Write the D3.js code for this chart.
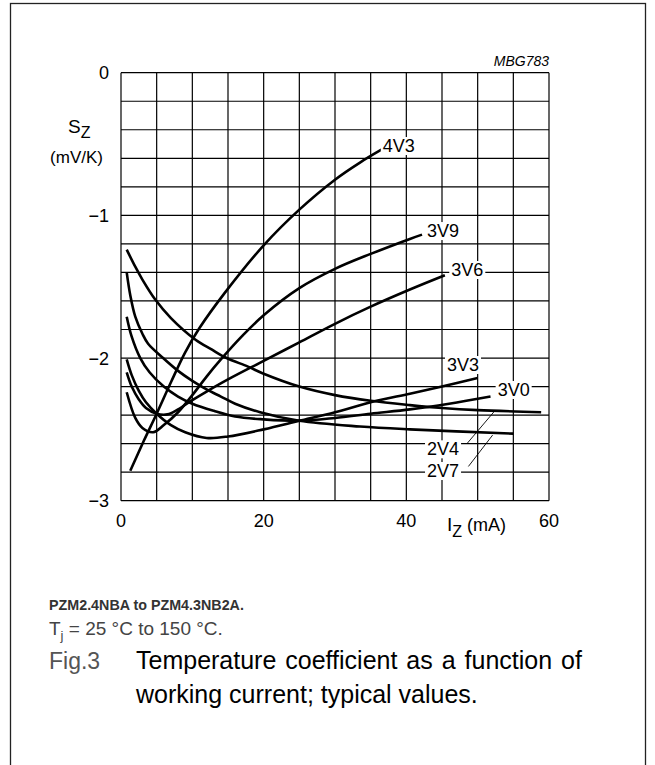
<!DOCTYPE html>
<html>
<head>
<meta charset="utf-8">
<script src="https://cdn.jsdelivr.net/npm/d3@7"></script>
<style>
  html, body { margin: 0; padding: 0; background: #fff; }
  svg { display: block; font-family: "Liberation Sans", Arial, sans-serif; }
</style>
</head>
<body>
<svg width="655" height="765"></svg>
<script>
// I_Z (mA) vs S_Z (mV/K)
var c2V4 = [[0.8,-1.24],[2,-1.36],[3,-1.45],[4.8,-1.59],[7,-1.72],[10.4,-1.87],[12.7,-1.94],[14.8,-2.0],[17.8,-2.06],[20,-2.11],[25,-2.2],[30,-2.26],[35,-2.3],[40.5,-2.33],[45,-2.35],[50,-2.365],[58.9,-2.38]];
var c2V7 = [[0.8,-1.40],[1.3,-1.56],[2,-1.71],[3,-1.83],[3.8,-1.9],[5.9,-2.0],[8,-2.09],[10,-2.16],[12,-2.22],[14,-2.27],[16,-2.32],[19.5,-2.38],[25,-2.44],[33.5,-2.48],[40.5,-2.5],[55,-2.53]];
var c3V0 = [[0.8,-1.71],[1.5,-1.85],[2.7,-2.0],[4,-2.1],[6,-2.2],[8,-2.27],[10,-2.32],[13,-2.37],[16,-2.41],[20,-2.43],[25,-2.44],[30,-2.42],[35,-2.39],[40.5,-2.36],[46,-2.32],[51.8,-2.27]];
var c3V3 = [[0.8,-2.01],[1.5,-2.12],[2.5,-2.23],[3.5,-2.31],[5,-2.39],[7,-2.47],[9,-2.52],[12,-2.56],[15,-2.55],[20,-2.5],[25,-2.44],[30,-2.38],[35,-2.31],[40.5,-2.25],[45,-2.2],[50,-2.14]];
var c3V6 = [[0.8,-2.10],[1.5,-2.2],[2.5,-2.29],[3.5,-2.35],[5,-2.39],[6.5,-2.395],[8,-2.36],[10,-2.295],[12,-2.235],[15,-2.15],[20,-2.02],[25,-1.89],[30,-1.76],[35,-1.64],[40.5,-1.52],[45.4,-1.42]];
var c3V9 = [[0.8,-2.24],[2,-2.42],[3,-2.49],[4.5,-2.52],[6,-2.47],[8,-2.38],[10,-2.26],[12,-2.13],[14,-2.01],[17,-1.845],[20,-1.70],[25,-1.51],[30,-1.375],[35,-1.27],[40.5,-1.165],[42.2,-1.135]];
var c4V3 = [[1.3,-2.79],[3.2,-2.58],[5,-2.39],[7,-2.17],[9,-1.96],[11,-1.79],[14.6,-1.54],[20,-1.21],[25,-0.96],[30,-0.75],[33.5,-0.63],[36.5,-0.54]];

var curves = [c2V4, c2V7, c3V0, c3V3, c3V6, c3V9, c4V3];
var curveNames = ["2V4", "2V7", "3V0", "3V3", "3V6", "3V9", "4V3"];
// label baseline-left positions in data units
var labelPos = [[42.9,-2.682],[42.9,-2.834],[52.8,-2.266],[45.7,-2.091],[46.3,-1.425],[42.9,-1.152],[36.7,-0.556]];
// leader lines for the two lower labels: [from label, to curve]
var leaders = [[[48.5,-2.60],[52.4,-2.37]], [[48.7,-2.76],[52.1,-2.54]]];

var xTicks = [0, 20, 40, 60];
var yTicks = [0, -1, -2, -3];

var svg = d3.select("svg");

// outer frame
svg.append("rect")
   .attr("x", 10.5).attr("y", 3.5)
   .attr("width", 635).attr("height", 800)
   .attr("fill", "none").attr("stroke", "#222").attr("stroke-width", 1.3);

var x = d3.scaleLinear().domain([0, 60]).range([121, 549]);
var y = d3.scaleLinear().domain([-3, 0]).range([500.7, 72.7]);

var grid = svg.append("g").attr("stroke", "#000").attr("stroke-width", 1.2);
grid.selectAll("line.v")
    .data(d3.range(0, 60.1, 5))
    .enter().append("line")
    .attr("x1", function(d) { return x(d); }).attr("x2", function(d) { return x(d); })
    .attr("y1", y(-3)).attr("y2", y(0));
grid.selectAll("line.h")
    .data(d3.range(0, 15.1, 1).map(function(i) { return -i * 0.2; }))
    .enter().append("line")
    .attr("y1", function(d) { return y(d); }).attr("y2", function(d) { return y(d); })
    .attr("x1", x(0)).attr("x2", x(60));

// tick labels
svg.append("g").selectAll("text")
   .data(yTicks)
   .enter().append("text")
   .attr("x", 109).attr("y", function(d) { return y(d) + 6.5; })
   .attr("text-anchor", "end").attr("font-size", 18)
   .text(function(d) { return d === 0 ? "0" : "\u2212" + Math.abs(d); });

svg.append("g").selectAll("text")
   .data(xTicks)
   .enter().append("text")
   .attr("x", function(d) { return x(d); }).attr("y", 527)
   .attr("text-anchor", "middle").attr("font-size", 18)
   .text(function(d) { return d; });

// axis titles
var yt = svg.append("text").attr("x", 68).attr("y", 133).attr("font-size", 19);
yt.append("tspan").text("S");
yt.append("tspan").attr("font-size", 16).attr("dy", 5).text("Z");
svg.append("text").attr("x", 103).attr("y", 163).attr("text-anchor", "end").attr("font-size", 17).text("(mV/K)");

var xt = svg.append("text").attr("x", 447).attr("y", 531).attr("font-size", 19);
xt.append("tspan").text("I");
xt.append("tspan").attr("font-size", 16).attr("dy", 6).text("Z");
xt.append("tspan").attr("font-size", 18).attr("dy", -6).text(" (mA)");

svg.append("text").attr("x", 549).attr("y", 66)
   .attr("text-anchor", "end").attr("font-size", 14).attr("font-style", "italic")
   .text("MBG783");

// curves
var line = d3.line()
    .x(function(d) { return x(d[0]); })
    .y(function(d) { return y(d[1]); })
    .curve(d3.curveCatmullRom.alpha(0.5));

svg.append("g").selectAll("path")
   .data(curves)
   .enter().append("path")
   .attr("d", line)
   .attr("fill", "none").attr("stroke", "#000").attr("stroke-width", 2.6);

// leaders
svg.append("g").selectAll("line")
   .data(leaders)
   .enter().append("line")
   .attr("x1", function(d) { return x(d[0][0]); }).attr("y1", function(d) { return y(d[0][1]); })
   .attr("x2", function(d) { return x(d[1][0]); }).attr("y2", function(d) { return y(d[1][1]); })
   .attr("stroke", "#000").attr("stroke-width", 0.9);

// curve labels with white knock-out
var lab = svg.append("g").selectAll("g")
   .data(curveNames)
   .enter().append("g");
lab.append("text")
   .attr("x", function(d, i) { return x(labelPos[i][0]); })
   .attr("y", function(d, i) { return y(labelPos[i][1]); })
   .attr("font-size", 18)
   .text(function(d) { return d; });
lab.each(function() {
  var g = d3.select(this), b = g.select("text").node().getBBox();
  g.insert("rect", "text")
   .attr("x", b.x - 2).attr("y", b.y + 1)
   .attr("width", b.width + 4).attr("height", b.height - 2)
   .attr("fill", "#fff");
});

// caption
svg.append("text").attr("x", 49).attr("y", 610)
   .attr("font-size", 14.3).attr("font-weight", "bold").attr("fill", "#333")
   .text("PZM2.4NBA to PZM4.3NB2A.");
var tj = svg.append("text").attr("x", 49).attr("y", 635).attr("font-size", 19).attr("fill", "#444");
tj.append("tspan").text("T");
tj.append("tspan").attr("font-size", 13).attr("dy", 5).text("j");
tj.append("tspan").attr("dy", -5).text(" = 25 \u00B0C to 150 \u00B0C.");

svg.append("text").attr("x", 49).attr("y", 669).attr("font-size", 23).attr("fill", "#555").text("Fig.3");
svg.append("text").attr("x", 136).attr("y", 669).attr("font-size", 25).attr("word-spacing", 2)
   .text("Temperature coefficient as a function of");
svg.append("text").attr("x", 136).attr("y", 703).attr("font-size", 25).text("working current; typical values.");
</script>
</body>
</html>
